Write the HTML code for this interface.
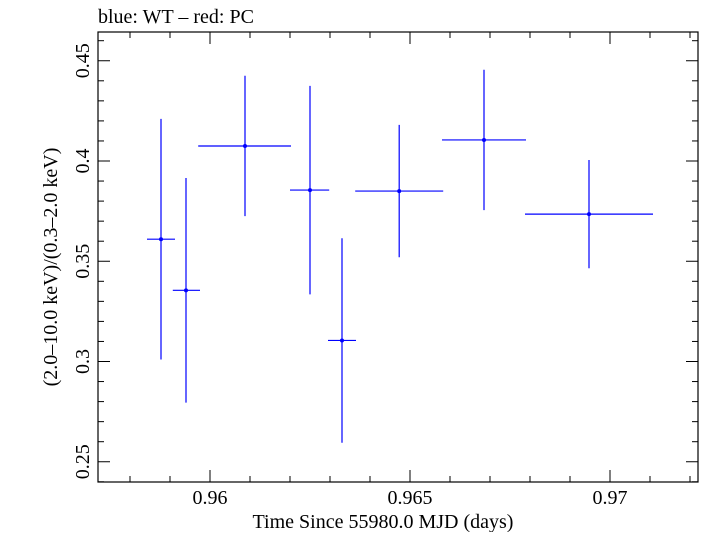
<!DOCTYPE html>
<html><head><meta charset="utf-8"><style>
body{margin:0;background:#fff}
svg text{font-family:"Liberation Serif",serif;fill:#000}
</style></head><body>
<svg id="c" width="705" height="532" xmlns="http://www.w3.org/2000/svg">
<text x="98" y="23" font-size="20">blue: WT – red: PC</text>
<rect x="98" y="32" width="600" height="450" fill="none" stroke="#000" stroke-width="1.2"/>
<g id="ticks"></g>
<g id="marks"></g>
<text x="383" y="528" font-size="20" text-anchor="middle">Time Since 55980.0 MJD (days)</text>
<text transform="translate(57,267) rotate(-90)" font-size="20" text-anchor="middle">(2.0–10.0 keV)/(0.3–2.0 keV)</text>
</svg>
<script>
const times=[0.958775,0.9594,0.960875,0.9625,0.9633,0.96473,0.96685,0.969475];
const timeErrLo=[0.00035,0.00033,0.00117,0.0005,0.00035,0.0011,0.00105,0.0016];
const timeErrHi=[0.00035,0.00035,0.00115,0.00048,0.00035,0.0011,0.00105,0.0016];
const ratios=[0.361,0.3355,0.4075,0.3855,0.3105,0.385,0.4105,0.3735];
const ratioErrs=[0.06,0.056,0.035,0.052,0.051,0.033,0.035,0.027];
const xTickLabels=["0.96","0.965","0.97"];
const yTickLabels=["0.25","0.3","0.35","0.4","0.45"];
const X=v=>210+(v-0.96)*40000;
const Y=v=>161-(v-0.4)*2005;
const NS="http://www.w3.org/2000/svg";
function mk(t,a,p){const e=document.createElementNS(NS,t);for(const k in a)e.setAttribute(k,a[k]);p.appendChild(e);return e;}
const tg=document.getElementById('ticks');
for(let i=0;;i++){const v=0.958+i*0.001;const x=X(v);if(x>698)break;if(x<98)continue;
 const major=Math.abs(v*200-Math.round(v*200))<1e-6;const l=major?12:6;
 const a=mk('line',{x1:x,x2:x,y1:482,y2:482-l,stroke:'#000'},tg);
 const b=mk('line',{x1:x,x2:x,y1:32,y2:32+l,stroke:'#000'},tg);}
for(let i=0;;i++){const v=0.24+i*0.01;const y=Y(v);if(y<32)break;if(y>482)continue;
 const major=Math.abs(v*20-Math.round(v*20))<1e-6;const l=major?12:6;
 const a=mk('line',{x1:98,x2:98+l,y1:y,y2:y,stroke:'#000'},tg);
 const b=mk('line',{x1:698,x2:698-l,y1:y,y2:y,stroke:'#000'},tg);}
xTickLabels.forEach(s=>{const t=mk('text',{x:X(+s),y:504,'font-size':20,'text-anchor':'middle'},tg);t.textContent=s;
 });
yTickLabels.forEach(s=>{const y=Y(+s);const t=mk('text',{transform:`translate(89,${y}) rotate(-90)`,'font-size':20,'text-anchor':'middle'},tg);t.textContent=s;
 });
const mg=document.getElementById('marks');
times.forEach((t,i)=>{const g=mk('g',{},mg);
 const x=X(t),y=Y(ratios[i]);
 mk('line',{x1:X(t-timeErrLo[i]),x2:X(t+timeErrHi[i]),y1:y,y2:y,stroke:'#0000ff','stroke-width':1.2},g);
 mk('line',{x1:x,x2:x,y1:Y(ratios[i]+ratioErrs[i]),y2:Y(ratios[i]-ratioErrs[i]),stroke:'#0000ff','stroke-width':1.2},g);
 mk('circle',{cx:x,cy:y,r:2,fill:'#0000ff'},g);});
</script>
</body></html>
